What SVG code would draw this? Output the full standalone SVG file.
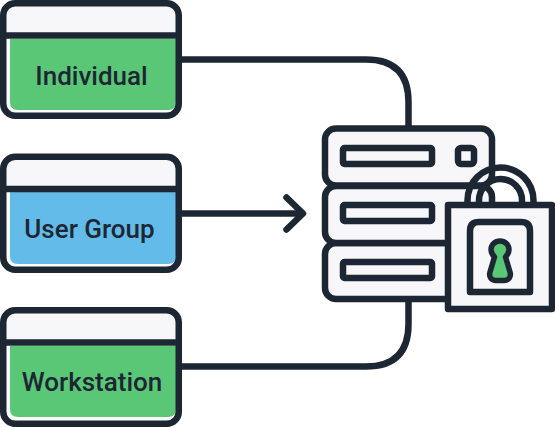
<svg xmlns="http://www.w3.org/2000/svg" width="555" height="427" viewBox="0 0 555 427">
<style>
.l{fill:none;stroke:#1d2633;stroke-width:6.5;stroke-linecap:round;stroke-linejoin:round}
.c{fill:none;stroke:#1d2633;stroke-width:6.5}
.p{fill:#f7f7fa;stroke:#1d2633;stroke-width:6.5;stroke-linejoin:round}
.w{fill:#fff;stroke:none}
.h{fill:#f7f7fa;stroke:none}
.t{font-family:Roboto,"Liberation Sans",sans-serif;font-size:26px;font-weight:500;fill:#1d2633;text-anchor:middle}
.g{fill:#5ac777;stroke:none}
.b{fill:#62bbe9;stroke:none}
</style>
<g id="connectors">
<path class="c" d="M182 59.500H366Q408.500 59.500 408.500 102V127"/>
<path class="c" d="M182 213.500H302"/>
<path class="l" d="M286.500 197.500L303 213.500L286.500 229.500"/>
<path class="c" d="M182 366.500H366Q408.500 366.500 408.500 324V300"/>
</g>
<g id="individual">
<rect class="w" x="3" y="3" width="176" height="113" rx="12"/>
<path class="h" d="M6 35V14Q6 6 14 6H168Q176 6 176 14V35Z"/>
<path class="g" d="M10 39H176V102Q176 110 168 110H18Q10 110 10 102Z"/>
<rect class="c" x="3.250" y="3.250" width="175.500" height="112.500" rx="12"/>
<path class="c" d="M3 35.500H179"/>
<text class="t" x="91.500" y="85">Individual</text>
</g>
<g id="user-group">
<rect class="w" x="3" y="157" width="176" height="113" rx="12"/>
<path class="h" d="M6 189V168Q6 160 14 160H168Q176 160 176 168V189Z"/>
<path class="b" d="M10 192H176V256Q176 264 168 264H18Q10 264 10 256Z"/>
<rect class="c" x="3.250" y="156.750" width="175.500" height="113" rx="12"/>
<path class="c" d="M3 189H179"/>
<text class="t" x="89.500" y="238">User Group</text>
</g>
<g id="workstation">
<rect class="w" x="3" y="310" width="176" height="114" rx="12"/>
<path class="h" d="M6 342V321Q6 313 14 313H168Q176 313 176 321V342Z"/>
<path class="g" d="M10 346H176V409Q176 417 168 417H18Q10 417 10 409Z"/>
<rect class="c" x="3.250" y="310.250" width="175.500" height="113.500" rx="12"/>
<path class="c" d="M3 342.500H179"/>
<text class="t" x="92" y="391">Workstation</text>
</g>
<g id="server">
<rect class="p" x="325" y="243" width="167" height="56" rx="11"/>
<rect class="p" x="325" y="186" width="167" height="57" rx="11"/>
<rect class="p" x="325" y="128.500" width="167" height="57" rx="11"/>
<rect class="p" x="343" y="148" width="89" height="16" rx="1.500"/>
<rect class="p" x="458" y="148" width="16" height="16" rx="3"/>
<rect class="p" x="343" y="205" width="89" height="16" rx="1.500"/>
<rect class="p" x="343" y="262" width="89" height="16" rx="1.500"/>
</g>
<g id="lock">
<path d="M467.500 205V200.500a33 33 0 0 1 66 0V205" fill="none" stroke="#1d2633" stroke-width="6.500"/>
<path d="M479 205V200.500a21.500 21.500 0 0 1 43 0V205" fill="none" stroke="#1d2633" stroke-width="6.500"/>
<rect class="p" x="448" y="205" width="104" height="104"/>
<path class="p" d="M470 292V231Q470 222 479 222H521Q530 222 530 231V292Z"/>
<path d="M500 241C495 241 491 245 491 249.500C491 252.500 492.500 255 494.500 257L490 272C488.500 277 491.500 280.500 496 280.500H504C508.500 280.500 511.500 277 510 272L505.500 257C507.500 255 509 252.500 509 249.500C509 245 505 241 500 241Z" fill="#5ac777" stroke="#1d2633" stroke-width="5.500" stroke-linejoin="round"/>
</g>
</svg>
